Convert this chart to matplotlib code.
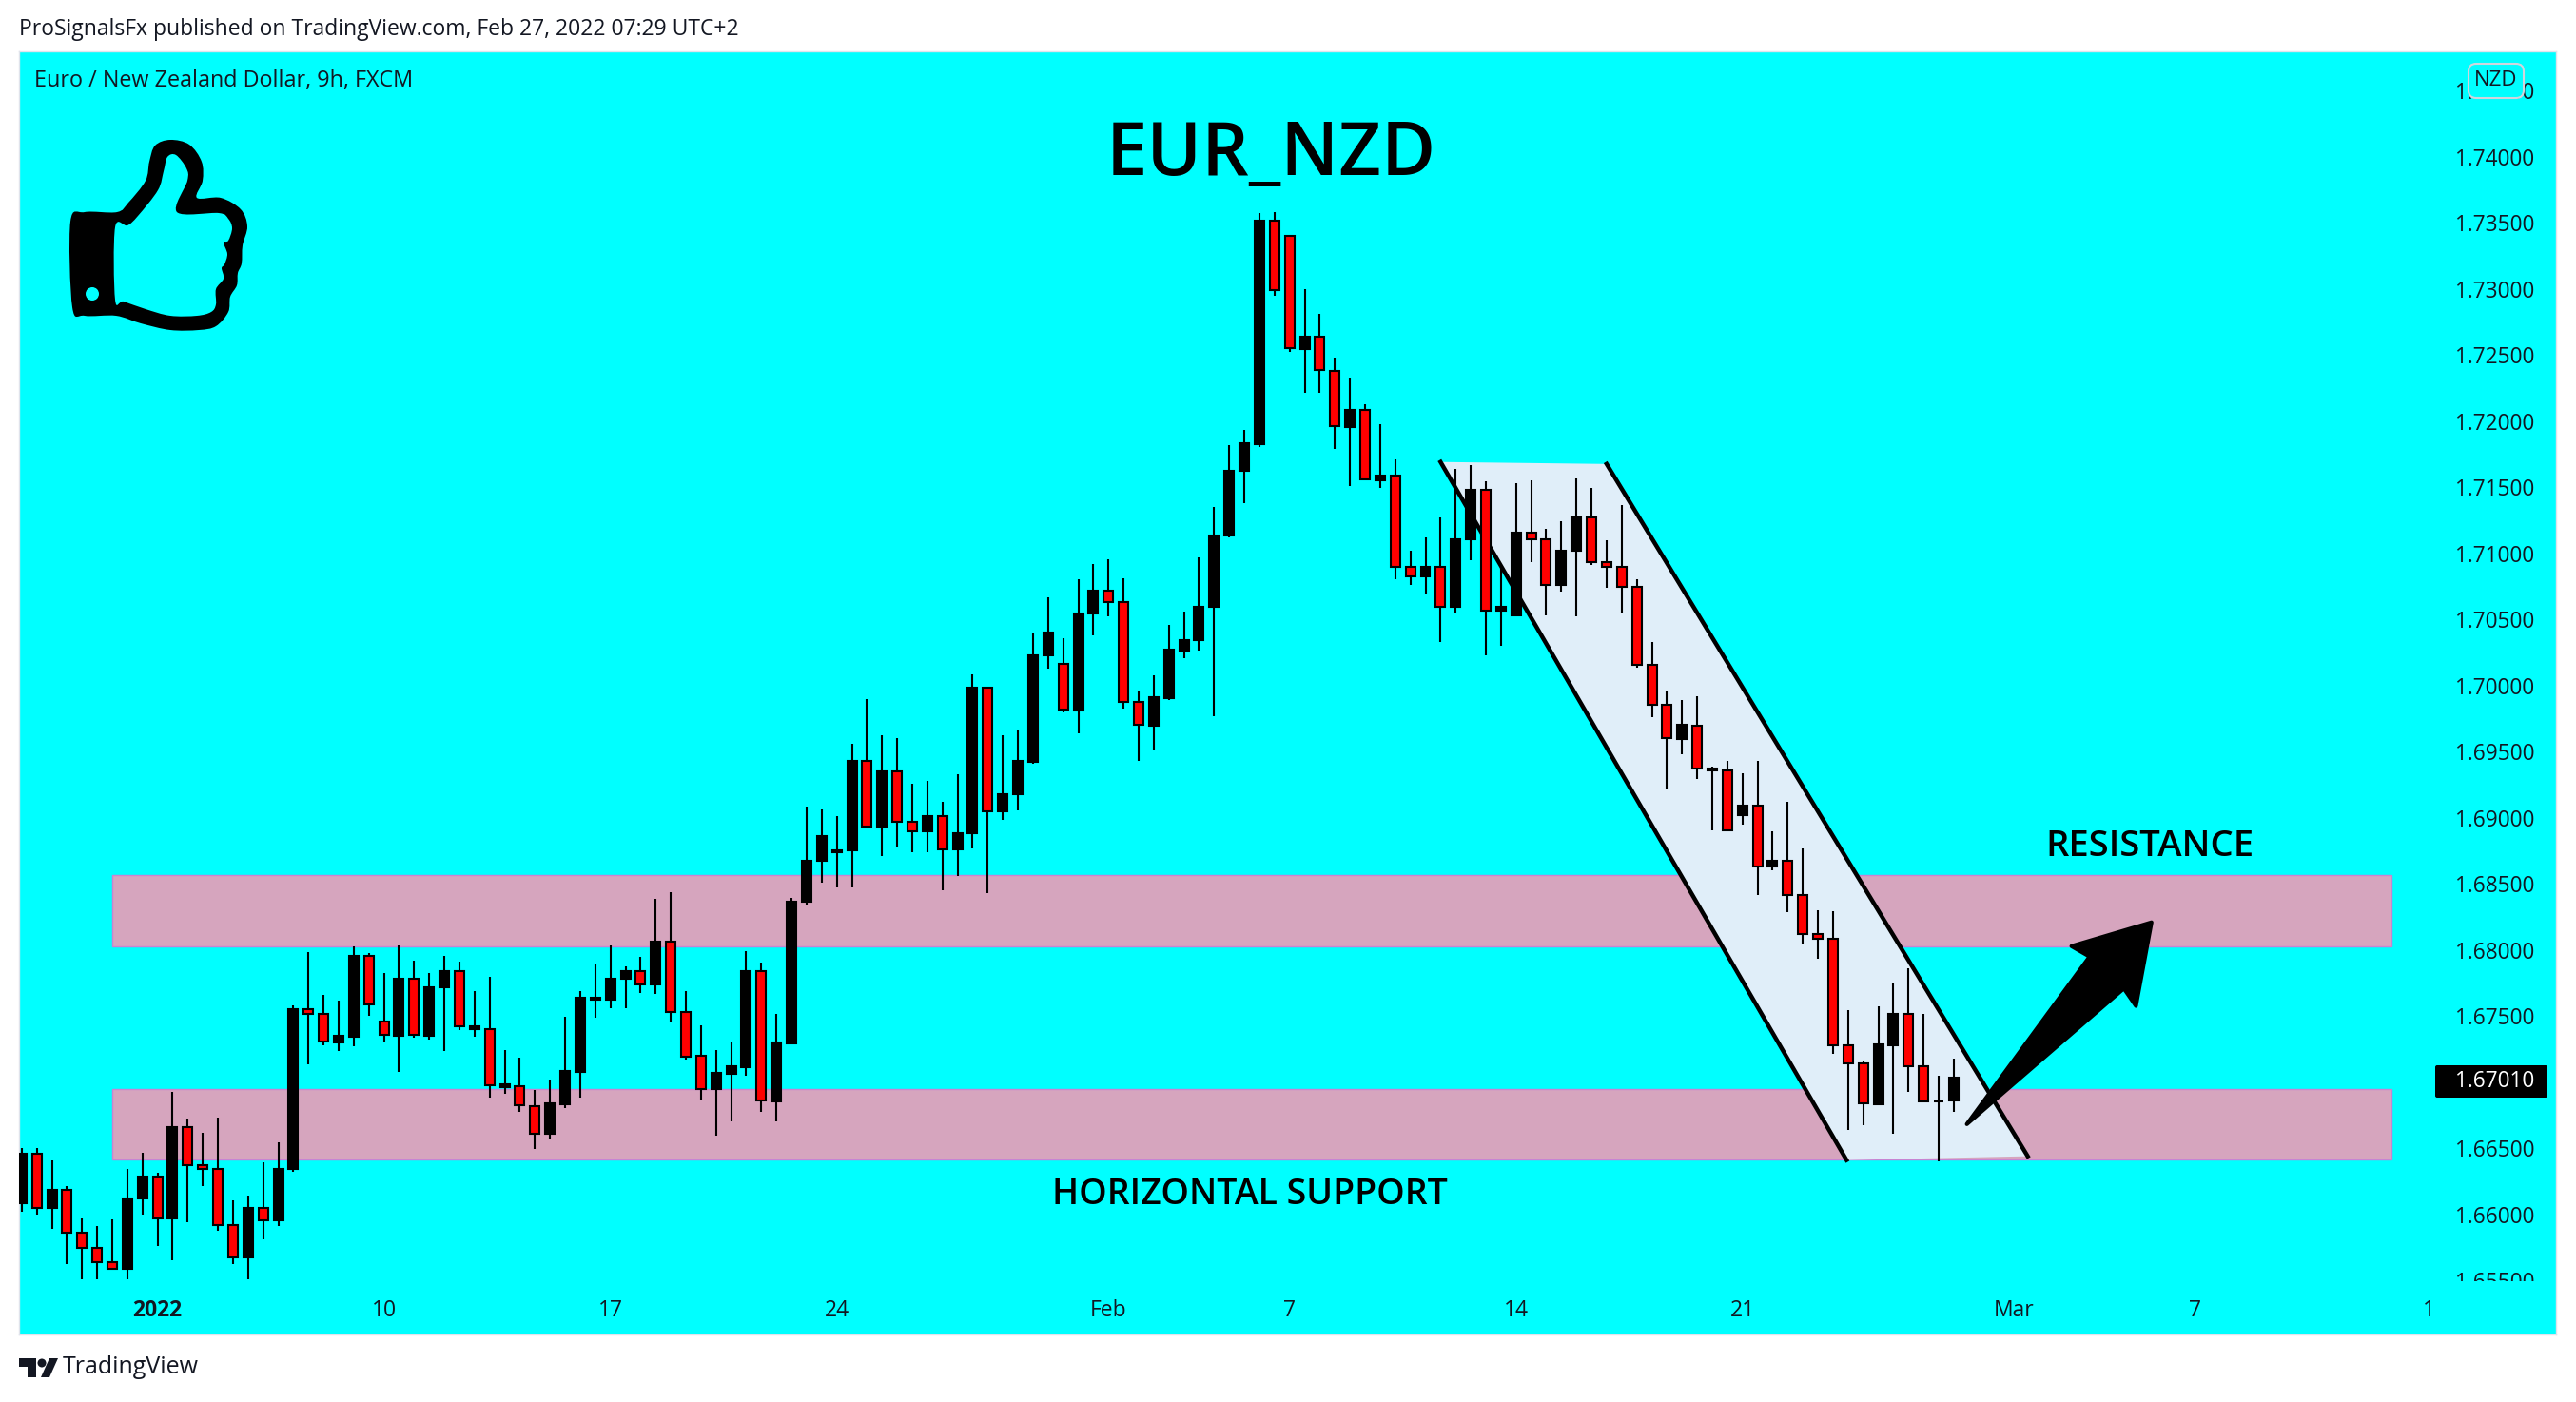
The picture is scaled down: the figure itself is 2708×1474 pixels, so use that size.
import matplotlib
matplotlib.use('Agg')
import matplotlib.pyplot as plt
from matplotlib.patches import PathPatch, Polygon, Rectangle, FancyBboxPatch, Circle
from matplotlib.path import Path
from matplotlib.transforms import Affine2D, Bbox

W, H = 2708, 1474
FONT = 'Open Sans'
DARK = '#131722'
CYAN = '#00FFFF'

opens = [
  1.66081, 1.66454, 1.66045, 1.66182, 1.65859, 1.65744, 1.65637, 1.65586, 1.66117, 1.66285,
  1.65967, 1.66658, 1.66371, 1.66342, 1.65919, 1.65672, 1.66048, 1.65952, 1.66340, 1.67547,
  1.67516, 1.67301, 1.67344, 1.67956, 1.67459, 1.67351, 1.67784, 1.67351, 1.67717, 1.67841,
  1.67401, 1.67401, 1.66964, 1.66971, 1.66820, 1.66605, 1.66834, 1.67078, 1.67623, 1.67623,
  1.67779, 1.67839, 1.67738, 1.68063, 1.67530, 1.67196, 1.66949, 1.67064, 1.67114, 1.67841,
  1.66856, 1.67294, 1.68362, 1.68671, 1.68735, 1.68750, 1.69426, 1.68929, 1.69347, 1.68967,
  1.68893, 1.69008, 1.68757, 1.68879, 1.69979, 1.69044, 1.69173, 1.69424, 1.70227, 1.70165,
  1.69811, 1.70543, 1.70715, 1.70629, 1.69871, 1.69697, 1.69902, 1.70263, 1.70342, 1.70593,
  1.71131, 1.71619, 1.71827, 1.73515, 1.73400, 1.72544, 1.72637, 1.72379, 1.71956, 1.72080,
  1.71554, 1.71583, 1.70897, 1.70823, 1.70894, 1.70593, 1.71102, 1.71478, 1.70564, 1.70531,
  1.71155, 1.71105, 1.70758, 1.71016, 1.71270, 1.70933, 1.70897, 1.70746, 1.70158, 1.69854,
  1.69596, 1.69697, 1.69359, 1.69359, 1.69015, 1.69089, 1.68630, 1.68673, 1.68415, 1.68121,
  1.68085, 1.67274, 1.67138, 1.66834, 1.67279, 1.67511, 1.67117, 1.66851, 1.66858]
highs = [
  1.66500, 1.66500, 1.66406, 1.66215, 1.65969, 1.65912, 1.65964, 1.66342, 1.66466, 1.66313,
  1.66925, 1.66722, 1.66615, 1.66732, 1.66105, 1.66141, 1.66395, 1.66543, 1.67576, 1.67985,
  1.67655, 1.67612, 1.68023, 1.67977, 1.67827, 1.68030, 1.67920, 1.67827, 1.67956, 1.67913,
  1.67690, 1.67798, 1.67239, 1.67181, 1.66937, 1.67016, 1.67490, 1.67690, 1.67891, 1.68030,
  1.67877, 1.67949, 1.68386, 1.68436, 1.67690, 1.67425, 1.67239, 1.67303, 1.67992, 1.67906,
  1.67511, 1.68393, 1.69082, 1.69061, 1.69010, 1.69555, 1.69893, 1.69620, 1.69598, 1.69254,
  1.69276, 1.69118, 1.69326, 1.70086, 1.69986, 1.69620, 1.69663, 1.70395, 1.70667, 1.70359,
  1.70804, 1.70918, 1.70954, 1.70811, 1.69957, 1.70072, 1.70459, 1.70555, 1.70971, 1.71349,
  1.71815, 1.71930, 1.73572, 1.73580, 1.73400, 1.72999, 1.72812, 1.72475, 1.72324, 1.72123,
  1.71973, 1.71707, 1.71019, 1.71119, 1.71270, 1.71636, 1.71664, 1.71542, 1.70894, 1.71528,
  1.71550, 1.71184, 1.71241, 1.71564, 1.71492, 1.71098, 1.71363, 1.70804, 1.70325, 1.69964,
  1.69885, 1.69914, 1.69388, 1.69426, 1.69333, 1.69426, 1.68896, 1.69118, 1.68766, 1.68300,
  1.68293, 1.67540, 1.67153, 1.67569, 1.67748, 1.67863, 1.67518, 1.67045, 1.67174]
lows = [
  1.66017, 1.65993, 1.65885, 1.65622, 1.65507, 1.65507, 1.65579, 1.65507, 1.66000, 1.65759,
  1.65651, 1.65938, 1.66210, 1.65873, 1.65622, 1.65507, 1.65809, 1.65909, 1.66318, 1.67136,
  1.67279, 1.67236, 1.67272, 1.67502, 1.67308, 1.67078, 1.67337, 1.67322, 1.67236, 1.67394,
  1.67344, 1.66878, 1.66913, 1.66777, 1.66490, 1.66562, 1.66799, 1.66878, 1.67487, 1.67559,
  1.67559, 1.67674, 1.67667, 1.67451, 1.67172, 1.66861, 1.66591, 1.66705, 1.67050, 1.66777,
  1.66698, 1.67294, 1.68334, 1.68506, 1.68470, 1.68470, 1.68922, 1.68707, 1.68771, 1.68735,
  1.68735, 1.68448, 1.68556, 1.68764, 1.68427, 1.68979, 1.69051, 1.69410, 1.70127, 1.69797,
  1.69639, 1.70378, 1.70521, 1.69826, 1.69431, 1.69510, 1.69890, 1.70206, 1.70261, 1.69768,
  1.71122, 1.71375, 1.71805, 1.72944, 1.72523, 1.72214, 1.72214, 1.71791, 1.71504, 1.71557,
  1.71490, 1.70801, 1.70758, 1.70686, 1.70328, 1.70543, 1.70945, 1.70227, 1.70299, 1.70531,
  1.70930, 1.70529, 1.70708, 1.70521, 1.70909, 1.70737, 1.70543, 1.70136, 1.69761, 1.69209,
  1.69481, 1.69295, 1.68900, 1.68903, 1.68943, 1.68413, 1.68599, 1.68283, 1.68037, 1.67930,
  1.67215, 1.66638, 1.66670, 1.66834, 1.66605, 1.66928, 1.66851, 1.66399, 1.66770]
closes = [
  1.66459, 1.66048, 1.66184, 1.65861, 1.65747, 1.65639, 1.65589, 1.66120, 1.66285, 1.65969,
  1.66658, 1.66371, 1.66342, 1.65919, 1.65675, 1.66048, 1.65955, 1.66342, 1.67547, 1.67518,
  1.67303, 1.67346, 1.67956, 1.67583, 1.67353, 1.67784, 1.67353, 1.67719, 1.67841, 1.67418,
  1.67418, 1.66973, 1.66980, 1.66823, 1.66607, 1.66837, 1.67081, 1.67640, 1.67640, 1.67784,
  1.67841, 1.67741, 1.68063, 1.67530, 1.67193, 1.66949, 1.67066, 1.67117, 1.67841, 1.66858,
  1.67296, 1.68365, 1.68673, 1.68860, 1.68752, 1.69426, 1.68929, 1.69347, 1.68967, 1.68893,
  1.69010, 1.68759, 1.68881, 1.69979, 1.69046, 1.69175, 1.69426, 1.70230, 1.70402, 1.69814,
  1.70545, 1.70717, 1.70631, 1.69871, 1.69699, 1.69907, 1.70268, 1.70344, 1.70595, 1.71134,
  1.71621, 1.71829, 1.73515, 1.72991, 1.72547, 1.72640, 1.72382, 1.71958, 1.72080, 1.71557,
  1.71585, 1.70897, 1.70823, 1.70897, 1.70595, 1.71105, 1.71478, 1.70567, 1.70595, 1.71155,
  1.71105, 1.70761, 1.71019, 1.71270, 1.70933, 1.70897, 1.70746, 1.70158, 1.69854, 1.69598,
  1.69699, 1.69369, 1.69371, 1.68903, 1.69089, 1.68630, 1.68673, 1.68415, 1.68121, 1.68085,
  1.67274, 1.67138, 1.66837, 1.67282, 1.67511, 1.67117, 1.66851, 1.66856, 1.67031]

y_ticks = [1.655, 1.66, 1.665, 1.675, 1.68, 1.685, 1.69, 1.695, 1.70, 1.705, 1.71, 1.715,
           1.72, 1.725, 1.73, 1.735, 1.74, 1.745]
x_tick_pos = [9, 24, 39, 54, 72, 84, 99, 114, 132, 144, 159.5]
x_tick_labels = ['2022', '10', '17', '24', 'Feb', '7', '14', '21', 'Mar', '7', '1']
last_price = '1.67010'

# zones and drawings, in bars / price
band_x = [6.0, 157.0]
resistance_band = [1.68023, 1.68568]
support_band = [1.66416, 1.66947]
channel_x = [94.0, 105.0, 132.9, 120.9]
channel_y = [1.71689, 1.71674, 1.66438, 1.66409]
arrow_x = [128.87, 137.0, 135.8, 141.1, 140.07, 139.27]
arrow_y = [1.66681, 1.67948, 1.68027, 1.68207, 1.67575, 1.67707]

# thumbs up icon, in image pixels
thumb_outer = [(89, 223), (123, 223), (135, 213), (153, 190), (157, 170), (163, 153), (179, 147),
               (199, 152), (212, 170), (213, 190), (207, 208), (232, 208), (253, 220), (260, 238),
               (255, 258), (254, 277), (250, 287), (249, 300), (242, 312), (240, 328), (227, 343),
               (209, 347), (179, 347), (148, 340), (122, 332), (89, 332), (76, 323), (74, 233)]
thumb_inner = [(121, 239), (134, 237), (145, 227), (166, 200), (172, 180), (176, 165), (185, 163),
               (196, 177), (197, 190), (186, 223), (230, 224), (240, 230), (244, 240), (240, 253),
               (235, 255), (239, 267), (236, 278), (233, 282), (235, 293), (227, 304), (227, 320),
               (222, 328), (207, 332), (179, 332), (153, 325), (130, 317), (121, 315)]


def smooth_path(pts):
  # closed catmull-rom turned into beziers
  n = len(pts)
  verts = [pts[0]]
  codes = [Path.MOVETO]
  for i in range(n):
    p0, p1, p2, p3 = pts[i - 1], pts[i], pts[(i + 1) % n], pts[(i + 2) % n]
    verts.append((p1[0] + (p2[0] - p0[0]) / 6, p1[1] + (p2[1] - p0[1]) / 6))
    verts.append((p2[0] - (p3[0] - p1[0]) / 6, p2[1] - (p3[1] - p1[1]) / 6))
    verts.append(p2)
    codes += [Path.CURVE4] * 3
  return Path(verts, codes)


fig = plt.figure(figsize=(W / 100, H / 100), dpi=100, facecolor='white')
ax = fig.add_axes([20 / W, 1 - 1403 / H, (2687 - 20) / W, (1403 - 54) / H], facecolor=CYAN)
ax.set_xlim(-0.176, 167.9)
ax.set_ylim(1.65090, 1.74795)

px = Affine2D().scale(1 / W, -1 / H).translate(0, 1) + fig.transFigure

for band in (resistance_band, support_band):
  ax.add_patch(Rectangle((band_x[0], band[0]), band_x[1] - band_x[0], band[1] - band[0],
                         facecolor='#D6A5BE', edgecolor='#C884D2', lw=1, zorder=1))

ax.add_patch(Polygon(list(zip(channel_x, channel_y)), closed=True, facecolor='#E0EEF9', edgecolor='none', zorder=2))
ax.plot([channel_x[0], channel_x[3]], [channel_y[0], channel_y[3]], color='black', lw=3.2, zorder=2.5)
ax.plot([channel_x[1], channel_x[2]], [channel_y[1], channel_y[2]], color='black', lw=3.2, zorder=2.5)

xs = list(range(len(opens)))
ax.vlines(xs, lows, highs, color='black', lw=1.5, zorder=3)
colors = ['black' if c >= o else '#FF0000' for o, c in zip(opens, closes)]
ax.bar(xs, [abs(c - o) for o, c in zip(opens, closes)], bottom=[min(o, c) for o, c in zip(opens, closes)],
       width=0.63, color=colors, edgecolor='black', lw=1.5, zorder=3.5)

ax.add_patch(Polygon(list(zip(arrow_x, arrow_y)), closed=True, facecolor='black', edgecolor='black',
                     lw=3, joinstyle='round', zorder=5))

for side in ax.spines.values():
  side.set_color('#E0E3EB')
  side.set_linewidth(1)

ax.set_xticks(x_tick_pos, x_tick_labels, fontfamily=FONT, fontsize=16.5, color=DARK)
ax.set_yticks(y_ticks, ['%.5f' % v for v in y_ticks], fontfamily=FONT, fontsize=16.3, color=DARK)
ax.yaxis.tick_right()
ax.tick_params(axis='x', length=0, pad=-27)
ax.tick_params(axis='y', length=0, pad=-76)
ax.get_xticklabels()[0].set_fontweight('bold')
# bottom label gets cut off where the time scale starts
clip = Bbox([[0, H - 1347], [W, H]])
for lab in ax.get_yticklabels():
  lab.set_va('center_baseline')
  lab.set_clip_box(clip)
  lab.set_clip_on(True)

# last price tag
fig.add_artist(FancyBboxPatch((2560, 1120), 118, 34, boxstyle='round,pad=0,rounding_size=2', transform=px,
                              facecolor='black', edgecolor='none', zorder=6))
fig.text(2581 / W, 1 - 1137 / H, last_price, fontfamily=FONT, fontsize=16.3, color='white', va='center', zorder=7)

# currency box over the top label
fig.add_artist(FancyBboxPatch((2595, 67), 58, 36, boxstyle='round,pad=0,rounding_size=8', transform=px,
                              facecolor=CYAN, edgecolor='#D1D4DC', lw=1.5, zorder=6))
fig.text(2624 / W, 1 - 85 / H, 'NZD', fontfamily=FONT, fontsize=16, color=DARK, ha='center', va='center', zorder=7)

fig.text(20 / W, 1 - 31 / H, 'ProSignalsFx published on TradingView.com, Feb 27, 2022 07:29 UTC+2',
         fontfamily=FONT, fontsize=16.5, color=DARK, va='center')
fig.text(36 / W, 1 - 85 / H, 'Euro / New Zealand Dollar, 9h, FXCM', fontfamily=FONT, fontsize=16.8, color=DARK, va='center', zorder=7)
fig.text(1336 / W, 1 - 184 / H, 'EUR_NZD', fontfamily=FONT, fontsize=56, fontweight='semibold', color='black',
         ha='center', va='baseline', zorder=7)
fig.text(2260 / W, 1 - 900 / H, 'RESISTANCE', fontfamily=FONT, fontsize=27.5, fontweight='semibold', color='black',
         ha='center', va='baseline', zorder=7)
fig.text(1314 / W, 1 - 1266 / H, 'HORIZONTAL SUPPORT', fontfamily=FONT, fontsize=27, fontweight='semibold', color='black',
         ha='center', va='baseline', zorder=7)

# thumb
fig.add_artist(PathPatch(smooth_path(thumb_outer), transform=px, facecolor='black', edgecolor='none', zorder=6))
fig.add_artist(PathPatch(smooth_path(thumb_inner), transform=px, facecolor=CYAN, edgecolor='none', zorder=7))
fig.add_artist(Circle((97, 309), 7, transform=px, facecolor=CYAN, edgecolor='none', zorder=7))

# TradingView logo
fig.add_artist(Polygon([(20, 1428), (38, 1428), (38, 1448), (29, 1448), (29, 1437), (20, 1437)], closed=True,
                       transform=px, facecolor=DARK, edgecolor='none'))
fig.add_artist(Circle((44, 1433), 4.5, transform=px, facecolor=DARK, edgecolor='none'))
fig.add_artist(Polygon([(52, 1428), (61, 1428), (52, 1448), (43, 1448)], closed=True,
                       transform=px, facecolor=DARK, edgecolor='none'))
fig.text(66 / W, 1 - 1438 / H, 'TradingView', fontfamily=FONT, fontsize=18, color=DARK, va='center')

fig.savefig('out.png', dpi=100, facecolor='white')
